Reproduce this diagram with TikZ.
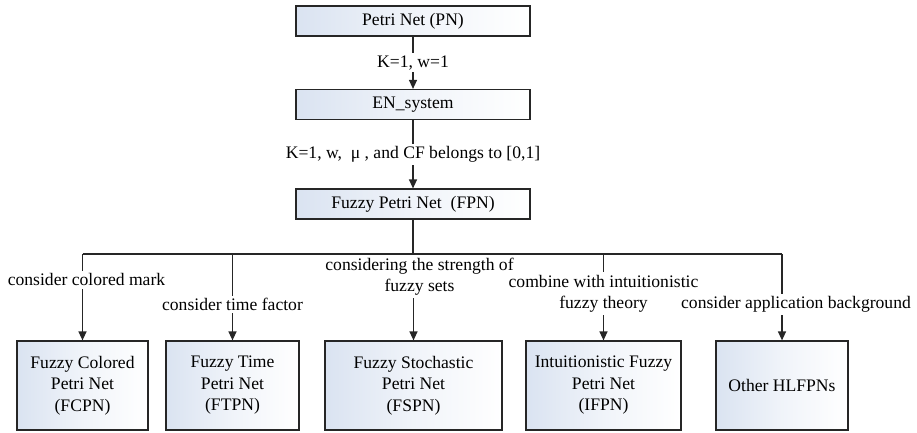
\documentclass[tikz,border=0pt]{standalone}
\usepackage{fontspec}
\setmainfont{Liberation Serif}
\usetikzlibrary{arrows.meta}
\definecolor{boxblue}{RGB}{218,227,241}
\begin{document}
\begin{tikzpicture}[x=1pt,y=-1pt,
  txt/.style={font=\fontsize{17.6}{21.5}\selectfont},
  box/.style={txt, draw=black!85, line width=1.2pt, left color=boxblue, right color=white, middle color=white!60!boxblue, inner sep=0pt, align=center},
  topbox/.style={box, minimum width=234pt, minimum height=30pt},
  lowbox/.style={box, minimum height=89pt},
  lab/.style={txt, fill=white, inner sep=2.5pt, align=center},
  conn/.style={line width=1.3pt, draw=black!85},
  arr/.style={conn, -{Triangle[width=8pt,length=9pt]}}]
\useasboundingbox (0,0) rectangle (917,432);
% top chain
\node[topbox] (pn)  at (413,21)    {Petri Net (PN)};
\node[topbox] (en)  at (413,104.5) {EN\_system};
\node[topbox] (fpn) at (413,204)   {Fuzzy Petri Net\ \ (FPN)};
% bottom boxes
\node[lowbox, minimum width=131pt] (b1) at (82.5,385.5)  {Fuzzy Colored\\Petri Net\\(FCPN)};
\node[lowbox, minimum width=133pt] (b2) at (232.5,385.5) {Fuzzy Time\\Petri Net\\(FTPN)};
\node[lowbox, minimum width=177pt] (b3) at (413.5,385.5) {Fuzzy Stochastic\\Petri Net\\(FSPN)};
\node[lowbox, minimum width=155pt] (b4) at (603.5,385.5) {Intuitionistic Fuzzy\\Petri Net\\(IFPN)};
\node[lowbox, minimum width=132pt] (b5) at (782,385.5)   {Other HLFPNs};
\coordinate (bus) at (413,254);
% top connectors
\draw[arr] (pn) -- node[lab] {K=1, w=1} (en);
\draw[arr] (en) -- node[lab] {K=1, w,\ \ μ\ , and CF belongs to [0,1]} (fpn);
% bus
\draw[conn] (fpn) -- (fpn.south |- bus);
\draw[conn] (b1.north |- bus) -- (b5.north |- bus);
% branches
\draw[arr] (b1.north |- bus) -- node[lab, pos=0.30, xshift=4pt] {consider colored mark} (b1.north);
\draw[arr] (b2.north |- bus) -- node[lab, pos=0.586] {consider time factor} (b2.north);
\draw[arr] (b3.north |- bus) -- node[lab, pos=0.26, xshift=6pt] {considering the strength of\\fuzzy sets} (b3.north);
\draw[arr] (b4.north |- bus) -- node[lab, pos=0.46] {combine with intuitionistic\\fuzzy theory} (b4.north);
\draw[arr] (b5.north |- bus) -- node[lab, pos=0.586, xshift=14pt] {consider application background} (b5.north);
\end{tikzpicture}
\end{document}
